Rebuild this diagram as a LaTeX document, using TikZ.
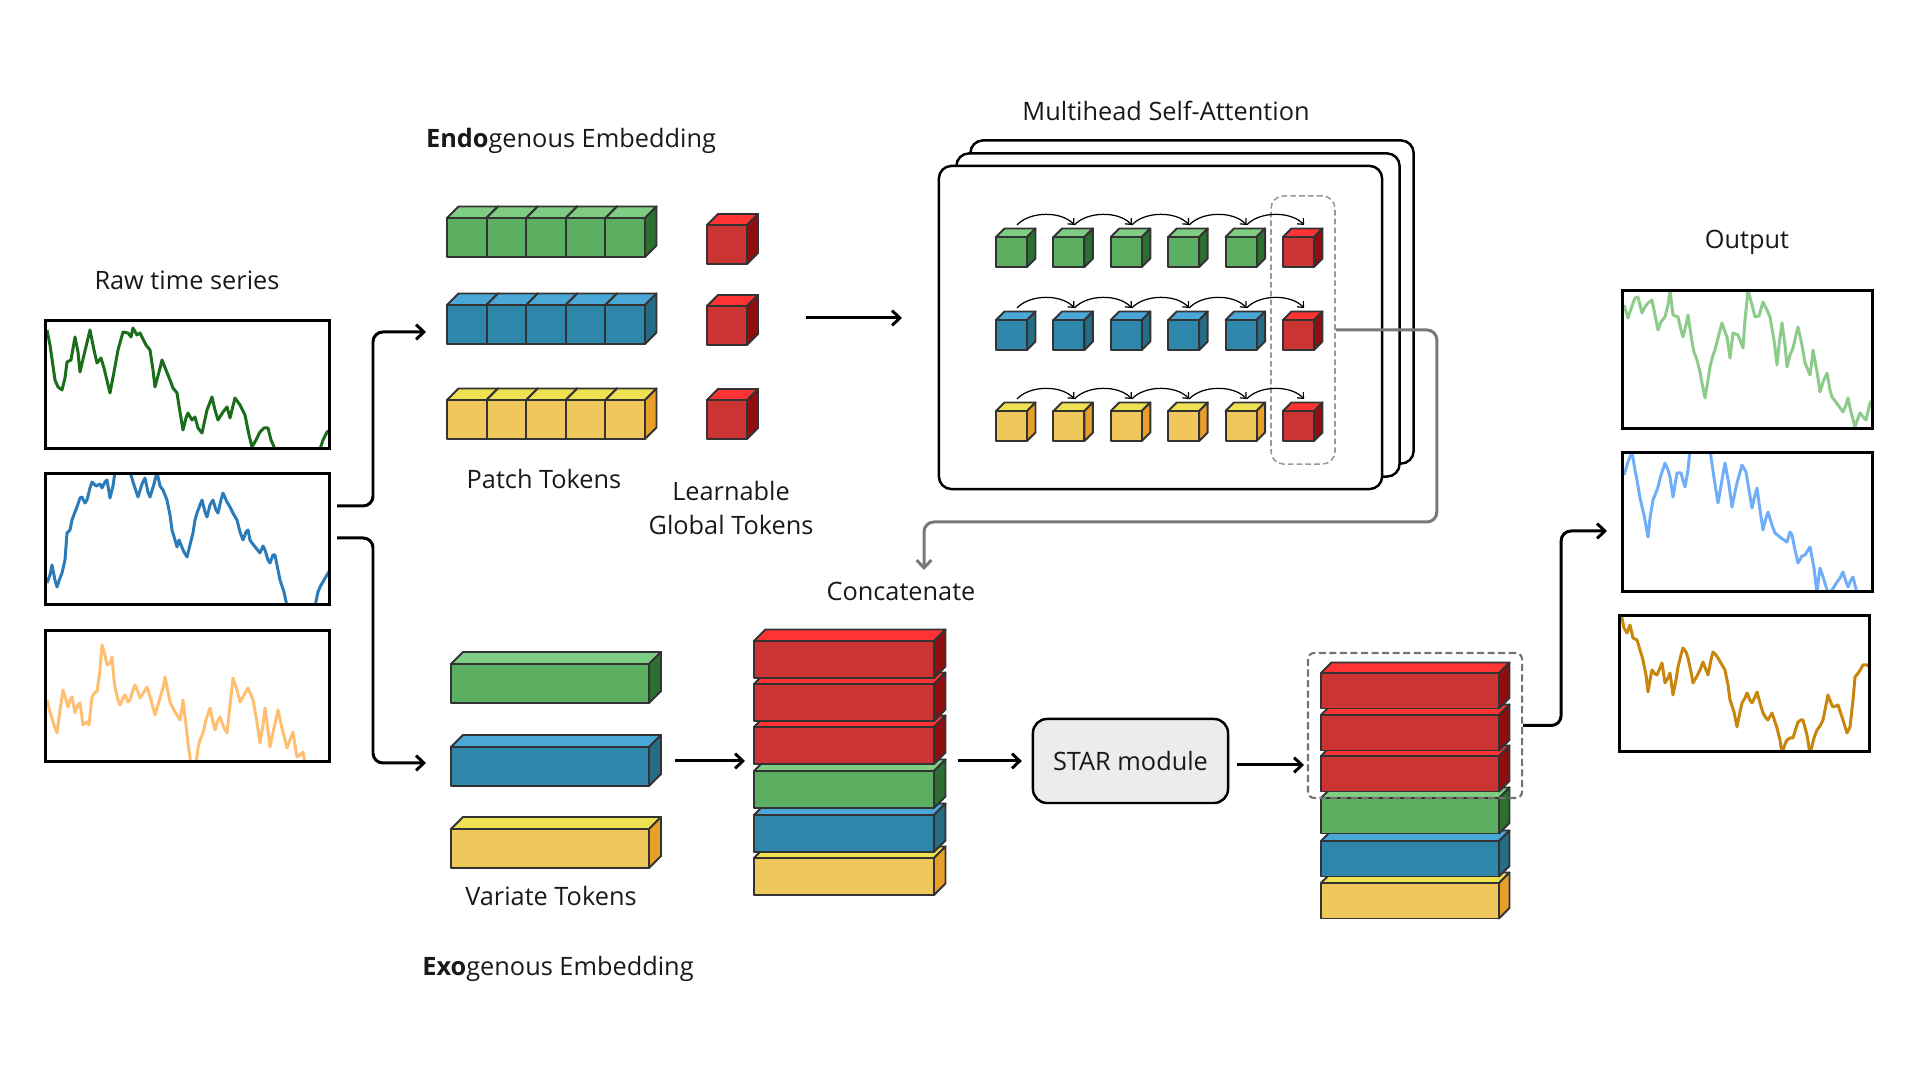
\documentclass[tikz,border=0pt]{standalone}
\usepackage{fontspec}
\setmainfont{Open Sans}
\usetikzlibrary{arrows.meta}

\definecolor{grnF}{HTML}{5CAE61}
\definecolor{grnT}{HTML}{7FCD83}
\definecolor{grnS}{HTML}{2D6E31}
\definecolor{bluF}{HTML}{2E86AB}
\definecolor{bluT}{HTML}{4AA8D9}
\definecolor{bluS}{HTML}{256C86}
\definecolor{ylwF}{HTML}{F0C75B}
\definecolor{ylwT}{HTML}{EEE152}
\definecolor{ylwS}{HTML}{E8A02B}
\definecolor{redF}{HTML}{CC3333}
\definecolor{redT}{HTML}{FF3333}
\definecolor{redS}{HTML}{900D10}
\definecolor{edge}{HTML}{333333}
\definecolor{fbgray}{HTML}{787878}
\definecolor{starfill}{HTML}{EDECEA}
\definecolor{rawgreen}{HTML}{1A6E1A}
\definecolor{rawblue}{HTML}{2A7BB8}
\definecolor{raworange}{HTML}{FFBE70}
\definecolor{outgreen}{HTML}{8DCB8B}
\definecolor{outblue}{HTML}{70AEFA}
\definecolor{outorange}{HTML}{C8860C}

% token prism: x, y (top-left of front face), width, height, depth, colour prefix
\newcommand{\tokbox}[6]{%
  \filldraw[tokline, fill=#6T] (#1,#2) -- ++(#5,-#5) -- ++(#3,0) -- ++(-#5,#5) -- cycle;
  \filldraw[tokline, fill=#6S] (#1+#3,#2) -- ++(#5,-#5) -- ++(0,#4) -- ++(-#5,#5) -- cycle;
  \filldraw[tokline, fill=#6F] (#1,#2) rectangle ++(#3,#4);}

\begin{document}
\begin{tikzpicture}[x=0.01cm, y=-0.01cm,
      >={Straight Barb[length=2.2pt,width=4.2pt]},
      every node/.append style={font=\fontsize{7.2}{9.6}\selectfont, text=black!90},
      tokline/.style={draw=edge, line width=0.55pt, line join=round},
      tsframe/.style={inner sep=0pt, minimum width=2.83cm},
      tsline/.style={line width=0.85pt, line join=round},
      flow/.style={->, line width=0.85pt, rounded corners=2.8pt},
      feedback/.style={->, line width=0.85pt, draw=fbgray, rounded corners=2.8pt},
      hop/.style={-{Straight Barb[length=1.3pt,width=2.4pt]}, line width=0.35pt},
      attbox/.style={draw, line width=0.7pt, fill=white, rounded corners=3.6pt, minimum width=4.43cm, minimum height=3.23cm},
      gbox/.style={draw=black!40, line width=0.45pt, dash pattern=on 1.6pt off 0.9pt, rounded corners=3.6pt},
      sbox/.style={draw=black!55, line width=0.6pt, dash pattern=on 2pt off 1pt, rounded corners=1.8pt},
      starbox/.style={draw, line width=0.7pt, fill=starfill, rounded corners=4pt, minimum width=1.95cm, minimum height=0.84cm}]
    \useasboundingbox (0,0) rectangle (1920,1080);

    % ---------------- raw time series ----------------
    \node (lbl-raw) at (187,280) {Raw time series};
    \node[tsframe, minimum height=1.27cm] (raw1) at (187.5,384.5) {};
    \node[tsframe, minimum height=1.30cm] (raw2) at (187.5,539) {};
    \node[tsframe, minimum height=1.30cm] (raw3) at (187.5,696) {};
    \begin{scope}
      \clip (raw1.south west) rectangle (raw1.north east);
      \draw[tsline, rawgreen] (47,330) -- (50,345) -- (55,380) -- (58,387) -- (62,390) -- (65,378) -- (67,362) -- (71,360) -- (75,337) -- (78,352) -- (80,372) -- (84,355) -- (90,330) -- (94,350) -- (97,363) -- (101,358) -- (104,368) -- (110,393) -- (114,372) -- (118,350) -- (123,332) -- (128,333) -- (131,337) -- (133,328) -- (137,335) -- (140,333) -- (146,345) -- (150,350) -- (153,370) -- (155,387) -- (159,372) -- (162,360) -- (166,370) -- (170,380) -- (173,388) -- (177,393) -- (180,412) -- (183,430) -- (186,418) -- (188,413) -- (192,420) -- (195,417) -- (198,428) -- (202,433) -- (207,410) -- (212,397) -- (215,410) -- (218,420) -- (223,412) -- (227,407) -- (230,418) -- (235,398) -- (240,405) -- (245,415) -- (249,435) -- (252,447) -- (256,440) -- (260,432) -- (264,428) -- (268,428) -- (271,440) -- (275,449) -- (320,449) -- (323,440) -- (327,432) -- (330,430);
    \end{scope}
    \begin{scope}
      \clip (raw2.south west) rectangle (raw2.north east);
      \draw[tsline, rawblue] (47,583) -- (50,575) -- (52,565) -- (55,580) -- (57,587) -- (60,578) -- (62,573) -- (65,560) -- (67,533) -- (70,530) -- (72,520) -- (75,512) -- (77,507) -- (80,498) -- (82,497) -- (85,503) -- (87,500) -- (90,488) -- (92,482) -- (96,486) -- (100,484) -- (102,488) -- (105,482) -- (107,480) -- (110,498) -- (113,486) -- (115,472) -- (130,472) -- (134,485) -- (138,497) -- (142,484) -- (145,478) -- (148,492) -- (150,497) -- (154,484) -- (157,472) -- (160,486) -- (163,490) -- (167,500) -- (170,515) -- (172,530) -- (175,540) -- (177,547) -- (179,540) -- (181,545) -- (184,552) -- (187,557) -- (190,545) -- (193,533) -- (195,520) -- (197,513) -- (200,505) -- (202,500) -- (205,512) -- (207,517) -- (210,505) -- (213,500) -- (216,510) -- (218,513) -- (221,500) -- (223,493) -- (227,502) -- (230,507) -- (234,515) -- (237,520) -- (240,532) -- (243,540) -- (246,532) -- (248,530) -- (250,540) -- (252,543) -- (256,548) -- (260,553) -- (263,546) -- (265,550) -- (268,560) -- (270,563) -- (273,555) -- (275,555) -- (278,570) -- (280,580) -- (284,592) -- (287,606) -- (315,606) -- (318,592) -- (320,587) -- (324,580) -- (327,575) -- (330,570);
    \end{scope}
    \begin{scope}
      \clip (raw3.south west) rectangle (raw3.north east);
      \draw[tsline, raworange] (47,700) -- (50,712) -- (54,725) -- (57,733) -- (60,710) -- (63,690) -- (66,700) -- (68,707) -- (70,700) -- (72,697) -- (75,713) -- (78,705) -- (80,703) -- (83,725) -- (87,722) -- (89,725) -- (92,697) -- (95,692) -- (97,692) -- (100,670) -- (102,645) -- (105,655) -- (107,665) -- (110,663) -- (112,657) -- (114,680) -- (115,687) -- (118,700) -- (120,705) -- (123,698) -- (125,695) -- (128,702) -- (130,700) -- (133,690) -- (135,685) -- (138,692) -- (140,698) -- (144,692) -- (147,687) -- (151,700) -- (155,715) -- (158,705) -- (160,698) -- (163,688) -- (165,677) -- (168,692) -- (170,702) -- (175,712) -- (180,720) -- (182,708) -- (183,700) -- (186,725) -- (188,743) -- (191,765) -- (196,765) -- (198,748) -- (200,740) -- (203,733) -- (206,720) -- (210,708) -- (213,722) -- (215,730) -- (218,720) -- (220,717) -- (224,728) -- (227,733) -- (230,705) -- (233,678) -- (237,690) -- (240,702) -- (244,695) -- (248,688) -- (251,695) -- (253,700) -- (257,722) -- (260,743) -- (263,725) -- (265,708) -- (268,730) -- (270,747) -- (274,728) -- (278,710) -- (282,728) -- (287,748) -- (290,740) -- (293,732) -- (295,745) -- (297,757) -- (300,755) -- (303,752) -- (305,764);
    \end{scope}

    % split into the two embeddings
    \coordinate (split-endo) at (337,506);
    \coordinate (split-exo)  at (337,538);
    \coordinate (endo-in)    at (426,332);
    \coordinate (exo-in)     at (426,763);
    \draw[flow] (split-endo) -- ++(36,0) |- (endo-in);
    \draw[flow] (split-exo) -- ++(36,0) |- (exo-in);

    % ---------------- endogenous embedding ----------------
    \node (lbl-endo) at (571,141) {\textbf{Endo}genous Embedding};
    \foreach \c/\y in {grn/218, blu/305, ylw/400}
      \foreach \i in {0,...,4} {\tokbox{447+39.6*\i}{\y}{39.6}{39}{11.5}{\c}}
    \foreach \y in {225, 306, 400} {\tokbox{707}{\y}{40}{39}{11}{red}}
    \node (lbl-patch) at (544,479) {Patch Tokens};
    \node[align=center] (lbl-global) at (731,508) {Learnable\\Global Tokens};

    \coordinate (patch-out) at (806,318);
    \coordinate (msa-in)    at (902,318);
    \draw[flow] (patch-out) -- (msa-in);

    % ---------------- multihead self-attention ----------------
    \node (lbl-msa) at (1166,111) {Multihead Self-Attention};
    \node[attbox] (msa3) at (1192,302) {};
    \node[attbox] (msa2) at (1178,315) {};
    \node[attbox] (msa1) at (1160.5,327.5) {};
    \node[gbox, minimum width=0.64cm, minimum height=2.68cm] (gtok-box) at (1303,330) {};
    \foreach \r/\y/\c in {1/237/grn, 2/320/blu, 3/411/ylw} {
      \foreach \i in {0,...,4} {\tokbox{996+57.4*\i}{\y}{31}{30}{8.5}{\c}}
      \tokbox{1283}{\y}{31}{30}{8.5}{red}
      \foreach \i in {0,...,5} {\coordinate (m\r-\i) at (1017+57.4*\i,\y-12);}
      \foreach \i [evaluate=\i as \j using int(\i+1)] in {0,...,4}
        \draw[hop] (m\r-\i) .. controls +(13,-14) and +(-13,-14) .. (m\r-\j);
    }

    % global tokens go back to the concatenation
    \coordinate (concat-in) at (924,570);
    \draw[feedback] (gtok-box.east) -- ++(101,0) -- ++(0,192) -| (concat-in);
    \node (lbl-concat) at (901,591) {Concatenate};

    % ---------------- exogenous embedding ----------------
    \foreach \c/\y in {grn/664, blu/747, ylw/829} {\tokbox{451}{\y}{198}{39}{12}{\c}}
    \node (lbl-var) at (551,896) {Variate Tokens};
    \node (lbl-exo) at (558,969) {\textbf{Exo}genous Embedding};

    \coordinate (var-out) at (675,761);
    \coordinate (cat-in)  at (745,761);
    \draw[flow] (var-out) -- (cat-in);

    % ---------------- concatenated stack and STAR ----------------
    \foreach \c/\y in {ylw/858, blu/815, grn/771, red/727, red/684, red/641} {\tokbox{754}{\y}{180}{37}{11.5}{\c}}
    \coordinate (cat-out) at (958,761);
    \node[starbox] (star) at (1130.5,761) {STAR module};
    \draw[flow, shorten >=2.8pt] (cat-out) -- (star.west);

    \coordinate (star-out) at (1237,765);
    \coordinate (res-in)   at (1304,765);
    \draw[flow] (star-out) -- (res-in);

    \foreach \c/\y in {ylw/883, blu/841, grn/798, red/756, red/715, red/673} {\tokbox{1321}{\y}{178}{35.5}{10.5}{\c}}
    \node[sbox, minimum width=2.14cm, minimum height=1.45cm] (sel-box) at (1415,725.5) {};

    \coordinate (out-in) at (1607,531);
    \draw[flow] (sel-box.east) -- ++(38,0) |- (out-in);

    % ---------------- output ----------------
    \node (lbl-out) at (1747,242) {Output};
    \node[tsframe, minimum width=2.49cm, minimum height=1.37cm] (out1) at (1747.5,359.5) {};
    \node[tsframe, minimum width=2.49cm, minimum height=1.38cm] (out2) at (1747.5,522) {};
    \node[tsframe, minimum width=2.49cm, minimum height=1.35cm] (out3) at (1744.5,683.5) {};
    \begin{scope}
      \clip (out1.south west) rectangle (out1.north east);
      \draw[tsline, outgreen] (1624,305) -- (1628,318) -- (1632,306) -- (1635,298) -- (1638,297) -- (1642,313) -- (1645,307) -- (1648,303) -- (1652,300) -- (1655,315) -- (1658,330) -- (1661,322) -- (1665,317) -- (1668,305) -- (1670,290) -- (1673,315) -- (1678,317) -- (1681,330) -- (1683,337) -- (1686,325) -- (1688,315) -- (1692,342) -- (1694,352) -- (1697,360) -- (1700,372) -- (1702,383) -- (1705,398) -- (1708,380) -- (1710,367) -- (1713,355) -- (1715,350) -- (1718,338) -- (1722,323) -- (1725,332) -- (1727,337) -- (1730,358) -- (1733,333) -- (1738,335) -- (1743,348) -- (1745,320) -- (1748,290) -- (1752,305) -- (1755,317) -- (1759,316) -- (1763,302) -- (1767,310) -- (1770,317) -- (1774,340) -- (1777,365) -- (1779,345) -- (1782,323) -- (1785,345) -- (1787,367) -- (1790,355) -- (1793,348) -- (1796,335) -- (1798,327) -- (1802,345) -- (1805,363) -- (1808,370) -- (1810,375) -- (1812,360) -- (1813,350) -- (1817,372) -- (1820,392) -- (1823,382) -- (1827,373) -- (1830,390) -- (1832,397) -- (1838,405) -- (1843,412) -- (1846,405) -- (1848,398) -- (1851,412) -- (1855,427) -- (1858,418) -- (1860,413) -- (1864,418) -- (1866,420) -- (1870,403) -- (1873,400);
    \end{scope}
    \begin{scope}
      \clip (out2.south west) rectangle (out2.north east);
      \draw[tsline, outblue] (1624,475) -- (1628,462) -- (1632,452) -- (1635,470) -- (1637,480) -- (1640,498) -- (1644,515) -- (1648,537) -- (1650,518) -- (1653,500) -- (1655,495) -- (1658,487) -- (1661,475) -- (1665,463) -- (1668,470) -- (1670,477) -- (1673,497) -- (1677,473) -- (1681,473) -- (1685,487) -- (1688,470) -- (1690,450) -- (1710,450) -- (1714,478) -- (1718,503) -- (1722,480) -- (1725,463) -- (1729,485) -- (1732,507) -- (1735,492) -- (1737,483) -- (1742,465) -- (1746,472) -- (1749,490) -- (1752,508) -- (1755,495) -- (1757,488) -- (1760,510) -- (1763,530) -- (1766,518) -- (1768,512) -- (1772,525) -- (1775,533) -- (1781,538) -- (1787,542) -- (1790,532) -- (1792,535) -- (1795,550) -- (1798,563) -- (1802,556) -- (1805,555) -- (1810,547) -- (1814,568) -- (1817,593) -- (1819,575) -- (1820,568) -- (1824,580) -- (1828,593) -- (1832,590) -- (1837,582) -- (1840,578) -- (1843,572) -- (1846,582) -- (1848,587) -- (1851,580) -- (1853,577) -- (1857,593);
    \end{scope}
    \begin{scope}
      \clip (out3.south west) rectangle (out3.north east);
      \draw[tsline, outorange] (1621,613) -- (1624,628) -- (1627,633) -- (1630,625) -- (1633,638) -- (1637,640) -- (1640,650) -- (1643,660) -- (1646,675) -- (1648,692) -- (1650,680) -- (1652,670) -- (1655,674) -- (1657,675) -- (1660,668) -- (1662,663) -- (1665,683) -- (1668,678) -- (1670,673) -- (1673,695) -- (1676,680) -- (1678,667) -- (1681,655) -- (1683,648) -- (1686,652) -- (1688,658) -- (1691,672) -- (1693,683) -- (1697,676) -- (1700,670) -- (1703,662) -- (1706,670) -- (1708,675) -- (1711,660) -- (1713,652) -- (1716,655) -- (1718,658) -- (1722,665) -- (1725,670) -- (1728,685) -- (1730,700) -- (1734,712) -- (1737,727) -- (1740,712) -- (1742,703) -- (1745,698) -- (1747,693) -- (1750,700) -- (1752,703) -- (1755,697) -- (1757,692) -- (1760,703) -- (1763,713) -- (1766,718) -- (1768,720) -- (1772,713) -- (1775,722) -- (1777,728) -- (1780,740) -- (1782,754) -- (1785,744) -- (1787,740) -- (1790,738) -- (1793,738) -- (1796,728) -- (1798,722) -- (1801,720) -- (1803,720) -- (1807,735) -- (1810,754) -- (1814,738) -- (1817,730) -- (1820,726) -- (1823,720) -- (1826,705) -- (1828,695) -- (1831,703) -- (1833,707) -- (1836,706) -- (1838,705) -- (1843,720) -- (1847,733) -- (1850,727) -- (1853,700) -- (1855,677) -- (1859,672) -- (1863,665) -- (1867,665) -- (1870,667);
    \end{scope}

    % frames on top of the curves
    \foreach \n in {raw1, raw2, raw3, out1, out2, out3}
      \draw[line width=0.85pt] (\n.south west) rectangle (\n.north east);
  \end{tikzpicture}
\end{document}
